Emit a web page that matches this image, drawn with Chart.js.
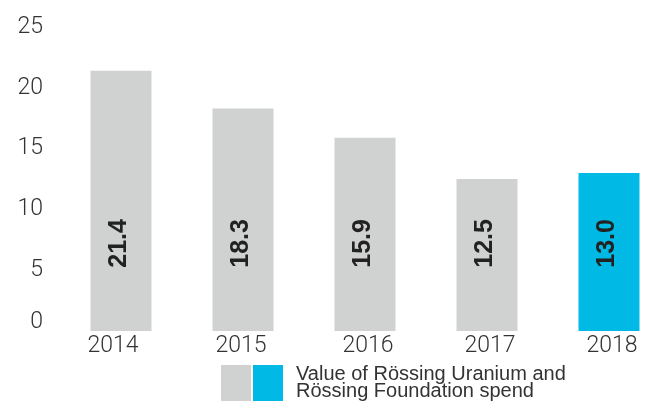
<!DOCTYPE html>
<html><head><meta charset="utf-8">
<script src="https://cdn.jsdelivr.net/npm/chart.js@4.4.1/dist/chart.umd.min.js"></script>
<style>
html,body{margin:0;padding:0;background:#fff;overflow:hidden}
#wrap{position:relative;width:647px;height:403px}
#c{position:absolute;left:0;top:0}
.sw{position:absolute;top:365px;width:30px;height:36px}
#ltxt{position:absolute;left:296px;top:365px;font:20px "Liberation Sans",Arial,sans-serif;line-height:17px;color:#333;white-space:nowrap}
</style></head><body>
<div id="wrap"><canvas id="c" width="647" height="403"></canvas>
<div class="sw" id="sw0" style="left:221px"></div>
<div class="sw" id="sw1" style="left:253px"></div>
<div id="ltxt"></div>
</div>
<script>
const categories = ['2014', '2015', '2016', '2017', '2018'];
const values = [21.4, 18.3, 15.9, 12.5, 13.0];
const yTicks = [0, 5, 10, 15, 20, 25];
const greyColor = '#d0d1d1';
const cyanColor = '#00b9e4';
const barColors = [greyColor, greyColor, greyColor, greyColor, cyanColor];
const legendLines = ['Value of Rössing Uranium and', 'Rössing Foundation spend'];

document.getElementById('sw0').style.background = greyColor;
document.getElementById('sw1').style.background = cyanColor;
document.getElementById('ltxt').innerHTML = legendLines.join('<br>');

const tickFont = {family: 'Roboto, "DejaVu Sans Condensed", sans-serif', size: 23, weight: '300'};

const labelTweak = {
  id: 'labelTweak',
  beforeDraw(chart) {
    const ys = chart.scales.y, xs = chart.scales.x;
    const yi = ys.getLabelItems(chart.chartArea);
    if (yi.length) yi[0].options.translation[1] -= 9;
    const xi = xs.getLabelItems(chart.chartArea);
    const dx = [-8, -2, 3, 3, 3];
    xi.forEach((it, i) => { it.options.translation[0] += dx[i] || 0; });
  }
};

const valueLabels = {
  id: 'valueLabels',
  afterDatasetsDraw(chart) {
    const ctx = chart.ctx;
    const meta = chart.getDatasetMeta(0);
    const y = chart.scales.y.getPixelForValue(7.2);
    ctx.save();
    ctx.font = 'bold 25px "Liberation Sans", Arial, sans-serif';
    ctx.fillStyle = '#222';
    ctx.textAlign = 'center';
    ctx.textBaseline = 'middle';
    meta.data.forEach((bar, i) => {
      ctx.save();
      ctx.translate(bar.x - 2, y);
      ctx.rotate(-Math.PI / 2);
      ctx.fillText(values[i].toFixed(1), 0, 0);
      ctx.restore();
    });
    ctx.restore();
  }
};

new Chart(document.getElementById('c'), {
  type: 'bar',
  data: {
    labels: categories,
    datasets: [{
      data: values,
      backgroundColor: barColors,
      borderWidth: 0,
      barPercentage: 0.5,
      categoryPercentage: 1,
      clip: false
    }]
  },
  options: {
    responsive: false,
    animation: false,
    devicePixelRatio: 1,
    layout: {padding: {left: 0, right: 38, top: 27, bottom: 0}},
    plugins: {legend: {display: false}, tooltip: {enabled: false}},
    scales: {
      x: {
        type: 'category',
        offset: false,
        grid: {display: false, drawTicks: false},
        border: {display: false},
        ticks: {font: tickFont, color: '#333', padding: 1, maxRotation: 0, autoSkip: false},
        afterFit(s) { s.height = 72; s.paddingLeft = 0; s.paddingRight = 0; }
      },
      y: {
        min: 0, max: 25,
        afterBuildTicks(s) { s.ticks = yTicks.map(v => ({value: v})); },
        grid: {display: false, drawTicks: false},
        border: {display: false},
        ticks: {font: tickFont, color: '#333', padding: 78},
        afterFit(s) { s.width = 121; s.paddingTop = 0; s.paddingBottom = 0; }
      }
    }
  },
  plugins: [labelTweak, valueLabels]
});
</script>
</body></html>
